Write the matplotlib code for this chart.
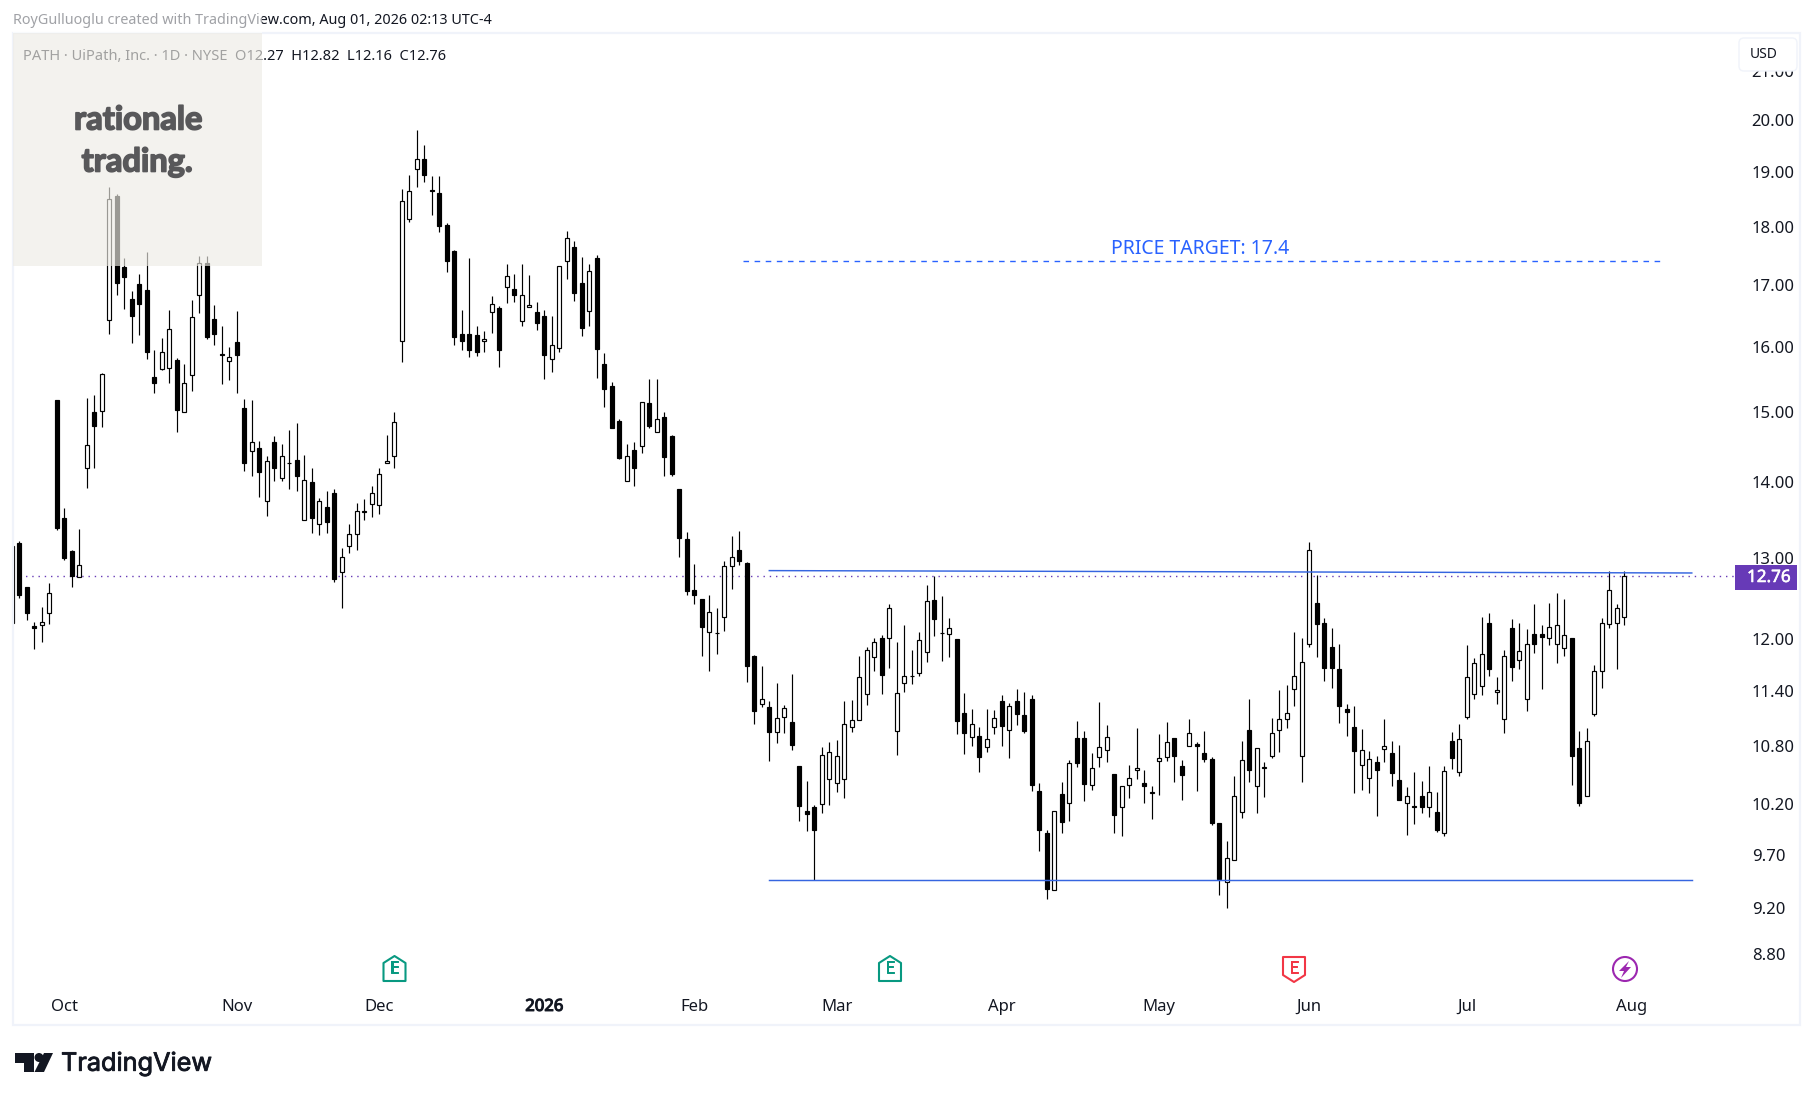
import numpy as np
import matplotlib
matplotlib.use("Agg")
import matplotlib.pyplot as plt
import matplotlib.patheffects as pe
from matplotlib.patches import Circle, FancyBboxPatch, Polygon, Rectangle
from matplotlib.transforms import Affine2D

plt.rcParams['font.family'] = ['Noto Sans', 'DejaVu Sans']

highs = [
    13.20, 13.21, 12.63, 12.20, 12.38, 12.68, 15.18, 13.64, 13.09, 13.37,
    15.21, 15.26, 15.59, 18.72, 18.60, 17.46, 16.90, 17.19, 17.56, 15.95,
    16.14, 16.58, 15.82, 15.72, 16.75, 17.50, 17.50, 16.66, 16.32, 15.99,
    16.57, 15.19, 15.18, 14.58, 14.37, 14.65, 14.53, 14.74, 14.84, 14.38,
    14.19, 13.78, 13.88, 13.91, 13.12, 13.43, 13.71, 13.77, 13.94, 14.20,
    14.67, 15.00, 18.68, 18.95, 19.81, 19.52, 18.92, 18.92, 18.07, 17.60,
    16.59, 17.45, 16.33, 16.24, 16.82, 16.65, 17.35, 17.18, 17.36, 17.16,
    16.72, 16.58, 16.48, 17.32, 17.93, 17.75, 17.48, 17.36, 17.51, 15.90,
    15.45, 14.90, 14.54, 14.56, 15.15, 15.50, 15.50, 15.00, 14.66, 13.90,
    13.33, 12.92, 12.47, 12.53, 12.36, 12.95, 13.27, 13.34, 12.94, 11.81,
    11.68, 11.28, 11.48, 11.24, 11.59, 10.58, 10.43, 10.18, 10.78, 10.84,
    10.86, 11.28, 11.29, 11.79, 11.90, 12.00, 12.04, 12.41, 11.96, 12.16,
    11.87, 12.08, 12.65, 12.76, 12.51, 12.25, 11.99, 11.37, 11.19, 11.00,
    11.19, 11.18, 11.35, 11.26, 11.42, 11.38, 11.35, 10.41, 9.94, 10.12,
    10.42, 10.65, 11.06, 10.95, 10.72, 11.27, 11.02, 10.50, 10.38, 10.59,
    10.99, 10.54, 10.38, 10.92, 11.05, 10.88, 10.65, 11.09, 10.84, 10.96,
    10.68, 10.01, 9.83, 10.48, 10.85, 11.30, 10.77, 10.62, 11.10, 11.41,
    11.46, 12.08, 12.01, 13.20, 12.77, 12.24, 12.13, 11.93, 11.25, 11.23,
    10.98, 10.74, 10.69, 11.08, 10.85, 10.80, 10.37, 10.52, 10.43, 10.58,
    10.32, 10.58, 10.94, 11.03, 11.92, 11.77, 12.26, 12.31, 11.55, 11.86,
    12.23, 12.18, 12.11, 12.41, 12.16, 12.43, 12.55, 12.47, 12.01, 10.95,
    10.99, 11.69, 12.24, 12.83, 12.42, 12.82,
]
lows = [
    12.10, 12.49, 12.22, 11.88, 11.96, 12.17, 13.35, 12.97, 12.62, 12.75,
    13.92, 14.19, 14.78, 16.20, 16.84, 16.61, 16.05, 16.18, 15.80, 15.28,
    15.63, 15.43, 14.71, 15.00, 15.32, 16.54, 16.12, 16.02, 15.42, 15.48,
    15.28, 14.15, 14.08, 13.80, 13.54, 14.01, 14.01, 13.90, 13.88, 13.48,
    13.31, 13.29, 13.31, 12.69, 12.36, 13.05, 13.09, 13.48, 13.52, 13.56,
    14.27, 14.19, 15.75, 18.09, 18.73, 18.81, 18.22, 17.91, 17.22, 16.02,
    15.94, 15.84, 15.85, 15.91, 16.22, 15.68, 16.70, 16.72, 16.33, 16.63,
    16.26, 15.49, 15.61, 15.91, 17.10, 16.74, 16.17, 16.33, 15.51, 15.08,
    14.76, 14.32, 14.02, 13.95, 14.41, 14.76, 14.71, 14.09, 14.08, 13.00,
    12.53, 12.41, 11.80, 11.62, 11.82, 12.09, 12.60, 12.90, 11.50, 11.03,
    11.22, 10.64, 10.83, 10.93, 10.75, 10.03, 9.93, 9.46, 10.10, 10.18,
    10.32, 10.25, 10.94, 11.07, 11.24, 11.62, 11.36, 11.66, 10.70, 11.38,
    11.47, 11.57, 11.73, 12.03, 11.74, 11.78, 10.92, 10.71, 10.79, 10.52,
    10.73, 10.92, 10.79, 10.67, 11.02, 10.93, 10.33, 9.73, 9.28, 9.37,
    9.91, 10.03, 10.57, 10.22, 10.34, 10.57, 10.63, 9.91, 9.88, 10.25,
    10.45, 10.20, 10.04, 10.29, 10.64, 10.42, 10.23, 10.79, 10.33, 10.62,
    9.99, 9.32, 9.20, 9.65, 10.05, 10.42, 10.10, 10.27, 10.67, 10.73,
    10.99, 11.23, 10.42, 11.90, 11.78, 11.51, 11.43, 11.04, 10.90, 10.31,
    10.34, 10.31, 10.07, 10.62, 10.38, 10.23, 9.89, 10.00, 10.10, 10.06,
    9.92, 9.88, 10.55, 10.48, 11.08, 11.30, 11.35, 11.57, 11.25, 10.93,
    11.51, 11.65, 11.17, 11.83, 11.42, 11.92, 11.71, 11.79, 10.39, 10.17,
    10.28, 11.12, 11.43, 12.12, 11.65, 12.16,
]
opens = [
    12.18, 13.18, 12.62, 12.15, 12.16, 12.30, 15.18, 13.51, 13.08, 12.75,
    14.19, 15.00, 15.02, 16.42, 18.55, 17.31, 16.76, 17.02, 16.91, 15.52,
    15.65, 15.67, 15.79, 15.00, 15.56, 16.83, 17.38, 16.44, 15.88, 15.78,
    16.07, 15.06, 14.43, 14.48, 13.74, 14.56, 14.06, 14.27, 14.31, 13.49,
    14.00, 13.43, 13.66, 13.85, 12.81, 13.15, 13.30, 13.59, 13.70, 13.68,
    14.27, 14.36, 16.09, 18.14, 19.05, 19.24, 18.66, 18.62, 18.03, 17.58,
    16.20, 16.20, 16.18, 16.09, 16.56, 16.62, 16.97, 16.93, 16.41, 16.63,
    16.55, 16.49, 15.81, 15.98, 17.41, 17.64, 17.04, 16.57, 17.46, 15.72,
    15.39, 14.87, 14.02, 14.45, 14.50, 15.14, 14.71, 14.93, 14.65, 13.90,
    13.24, 12.59, 12.47, 12.08, 12.07, 12.26, 12.89, 13.09, 12.93, 11.80,
    11.25, 11.22, 10.94, 11.11, 11.05, 10.58, 10.12, 10.16, 10.19, 10.45,
    10.41, 10.45, 11.00, 11.07, 11.36, 11.78, 12.01, 12.00, 10.95, 11.49,
    11.57, 11.60, 11.84, 12.46, 12.07, 12.05, 11.99, 11.15, 10.89, 10.90,
    10.78, 11.00, 11.28, 10.97, 11.28, 11.13, 11.31, 10.33, 9.91, 9.37,
    10.30, 10.20, 10.88, 10.88, 10.39, 10.68, 10.75, 10.50, 10.16, 10.39,
    10.54, 10.41, 10.31, 10.64, 10.68, 10.88, 10.58, 10.79, 10.82, 10.72,
    10.66, 10.01, 9.44, 9.65, 10.11, 10.97, 10.38, 10.56, 10.69, 10.97,
    11.09, 11.42, 10.69, 11.94, 12.43, 12.18, 11.90, 11.64, 11.20, 11.00,
    10.59, 10.46, 10.62, 10.76, 10.72, 10.44, 10.20, 10.17, 10.28, 10.16,
    10.11, 9.91, 10.85, 10.52, 11.11, 11.36, 11.45, 12.18, 11.38, 11.08,
    12.12, 11.75, 11.31, 12.05, 12.05, 12.00, 11.93, 11.89, 12.01, 10.77,
    10.28, 11.14, 11.62, 12.17, 12.19, 12.26,
]
closes = [
    13.14, 12.52, 12.31, 12.13, 12.20, 12.55, 13.38, 12.99, 12.76, 12.90,
    14.52, 14.80, 15.57, 18.50, 17.03, 17.13, 16.48, 16.68, 15.92, 15.44,
    15.92, 16.28, 15.03, 15.44, 16.47, 17.37, 16.15, 16.20, 15.86, 15.84,
    15.86, 14.27, 14.56, 14.14, 14.30, 14.20, 14.37, 14.26, 14.08, 14.03,
    13.51, 13.74, 13.46, 12.72, 13.00, 13.30, 13.60, 13.60, 13.85, 14.11,
    14.30, 14.85, 18.46, 18.64, 19.25, 18.95, 18.64, 18.01, 17.40, 16.15,
    16.08, 15.94, 15.92, 16.12, 16.68, 15.94, 17.15, 16.83, 16.83, 16.66,
    16.37, 15.86, 16.03, 17.32, 17.81, 16.86, 16.30, 17.24, 15.96, 15.35,
    14.77, 14.34, 14.37, 14.20, 15.15, 14.79, 14.90, 14.35, 14.11, 13.25,
    12.58, 12.53, 12.14, 12.32, 12.06, 12.89, 13.00, 12.95, 11.68, 11.17,
    11.31, 10.94, 11.10, 11.21, 10.80, 10.17, 10.09, 9.94, 10.70, 10.73,
    10.69, 11.03, 11.07, 11.55, 11.86, 11.96, 11.58, 12.37, 11.37, 11.57,
    11.57, 11.98, 12.45, 12.23, 12.06, 12.12, 11.06, 10.93, 11.03, 10.68,
    10.87, 11.10, 11.01, 11.23, 11.14, 10.95, 10.39, 9.94, 9.38, 10.12,
    10.02, 10.61, 10.61, 10.40, 10.56, 10.78, 10.89, 10.08, 10.38, 10.46,
    10.56, 10.38, 10.32, 10.67, 10.84, 10.69, 10.49, 10.93, 10.79, 10.66,
    10.01, 9.47, 9.67, 10.28, 10.65, 10.54, 10.77, 10.57, 10.93, 11.09,
    11.15, 11.57, 11.72, 13.09, 12.17, 11.66, 11.66, 11.23, 11.16, 10.74,
    10.75, 10.66, 10.54, 10.79, 10.51, 10.23, 10.28, 10.16, 10.16, 10.32,
    9.94, 10.53, 10.67, 10.87, 11.55, 11.71, 11.82, 11.65, 11.41, 11.79,
    11.67, 11.85, 11.93, 11.94, 12.02, 12.14, 12.16, 12.04, 10.69, 10.20,
    10.85, 11.62, 12.18, 12.59, 12.36, 12.76,
]

month_pos = [7, 30, 49, 71, 91, 110, 132, 153, 173, 194, 216]
month_labels = ['Oct', 'Nov', 'Dec', '2026', 'Feb', 'Mar', 'Apr', 'May', 'Jun', 'Jul', 'Aug']
price_ticks = [21, 20, 19, 18, 17, 16, 15, 14, 13, 12, 11.4, 10.8, 10.2, 9.7, 9.2, 8.8]
price_labels = ['%.2f' % p for p in price_ticks]

last_price = 12.76
target_price = 17.4
support_price = 9.46
resistance_prices = [12.83, 12.80]

BLUE = '#2962ff'
LINE_BLUE = '#3565e0'
PURPLE = '#673ab7'
INK = '#131722'
W, H = 1814, 1100
PANE = (13, 34, 1735, 985)    # left, top, right, bottom in pixels


def heavy(width, color):
    # the installed fonts have no black weight, so thicken with a stroke
    return [pe.withStroke(linewidth=width, foreground=color)]


def draw_candles(ax):
    x = np.arange(len(opens))
    o, h, l, c = map(np.array, (opens, highs, lows, closes))
    ax.vlines(x, l, h, color='black', lw=0.85, zorder=2)
    up = c >= o
    ax.bar(x[up], (c - o)[up], bottom=o[up], width=0.58, facecolor='white',
           edgecolor='black', lw=0.85, zorder=3)
    ax.bar(x[~up], (o - c)[~up], bottom=c[~up], width=0.58, facecolor='black',
           edgecolor='black', lw=0.85, zorder=3)


def draw_levels(ax):
    ax.plot([97.5, 220], [target_price, target_price], color=BLUE, lw=1,
            dashes=(4, 4), zorder=4)
    ax.text(158.5, 17.62, 'PRICE TARGET: 17.4', color=BLUE, fontsize=14,
            ha='center', va='center', zorder=5)
    ax.plot([101, 224], [support_price, support_price], color=LINE_BLUE, lw=1.05, zorder=4)
    ax.plot([101, 224], resistance_prices, color=LINE_BLUE, lw=1.05, zorder=4)
    ax.axhline(last_price, color=PURPLE, lw=1, dashes=(1, 3.5), zorder=1)


def earnings_icon(ov, cx, cy, color, up=True):
    if up:
        pts = [(cx - 11, cy - 6), (cx, cy - 13), (cx + 11, cy - 6), (cx + 11, cy + 12), (cx - 11, cy + 12)]
    else:
        pts = [(cx - 11, cy - 12), (cx + 11, cy - 12), (cx + 11, cy + 6), (cx, cy + 13), (cx - 11, cy + 6)]
    ov.add_patch(Polygon(pts, closed=True, fc='white', ec=color, lw=1.5, joinstyle='round'))
    ov.text(cx, cy, 'E', color=color, fontsize=12, ha='center', va='center',
            path_effects=heavy(0.7, color))


def draw_overlay(ov):
    # pane border
    ov.add_patch(Rectangle((13, 33), 1787, 992, fc='none', ec='#f0f3fa', lw=1.6))

    # top texts go under the logo box
    ov.text(13, 21, 'RoyGulluoglu created with TradingView.com, Aug 01, 2026 02:13 UTC-4',
            color=INK, fontsize=10.35, va='center', zorder=1)
    ov.text(23, 56, 'PATH · UiPath, Inc. · 1D · NYSE  O12.27  H12.82  L12.16  C12.76',
            color=INK, fontsize=10.55, va='center', zorder=1)

    ov.add_patch(Rectangle((13, 10), 249, 23, fc='white', alpha=0.6, ec='none', zorder=2))
    ov.add_patch(Rectangle((13, 33), 249, 233, fc='#eeece5', alpha=0.65, ec='none', zorder=2))
    ov.text(138, 120, 'rationale', color='#58585a', fontsize=23.5, fontweight='bold',
            family='Lato', ha='center', va='center', zorder=3,
            path_effects=heavy(1.2, '#58585a'))
    ov.text(137, 162, 'trading.', color='#58585a', fontsize=23.5, fontweight='bold',
            family='Lato', ha='center', va='center', zorder=3,
            path_effects=heavy(1.2, '#58585a'))

    # USD button
    ov.add_patch(FancyBboxPatch((1742, 41), 52, 27, boxstyle='round,pad=3,rounding_size=5',
                                fc='white', ec='#f0f3fa', lw=1))
    ov.text(1750, 55, 'USD', color=INK, fontsize=10, va='center')

    # last price tag
    ov.add_patch(Rectangle((1735, 565), 62, 25, fc=PURPLE, ec='none'))
    ov.text(1747, 578, '12.76', color='white', fontsize=12.3, va='center',
            path_effects=heavy(0.4, 'white'))

    earnings_icon(ov, 394.5, 969, '#089981')
    earnings_icon(ov, 890, 969, '#089981')
    earnings_icon(ov, 1294, 969, '#f23645', up=False)

    ov.add_patch(Circle((1625, 969), 12, fc='white', ec='#9c27b0', lw=1.5))
    ov.add_patch(Polygon([(1629, 961), (1619, 971), (1624, 971), (1621, 978),
                          (1631, 967), (1626, 967)], closed=True, fc='#9c27b0', ec='none'))

    # TradingView logo
    ov.add_patch(Polygon([(15, 1053), (34, 1053), (34, 1072), (24, 1072), (24, 1063), (15, 1063)],
                         closed=True, fc=INK, ec='none'))
    ov.add_patch(Circle((39, 1057.5), 4.5, fc=INK, ec='none'))
    ov.add_patch(Polygon([(44, 1053), (53, 1053), (44, 1072), (34.5, 1072)],
                         closed=True, fc=INK, ec='none'))
    ov.text(61, 1064, 'TradingView', color=INK, fontsize=18.2, family='Inter', va='center',
            path_effects=heavy(0.6, INK))


fig = plt.figure(figsize=(W / 100, H / 100), dpi=100, facecolor='white')

left, top, right, bottom = PANE
ax = fig.add_axes([left / W, 1 - bottom / H, (right - left) / W, (bottom - top) / H])
ax.set_yscale('log')
# 20.00 sits at y=120 px, 1015 px per unit of ln(price)
ax.set_ylim(20 * np.exp(-(bottom - 120) / 1015), 20 * np.exp((120 - top) / 1015))
ax.set_xlim((left - 11.8) / 7.5, (right - 11.8) / 7.5)
for s in ax.spines.values():
    s.set_visible(False)

draw_candles(ax)
draw_levels(ax)

ax.yaxis.tick_right()
ax.set_yticks(price_ticks, price_labels)
ax.minorticks_off()
ax.set_xticks(month_pos, month_labels)
ax.tick_params(axis='both', length=0, labelcolor=INK, labelsize=12)
ax.tick_params(axis='y', pad=12)
ax.tick_params(axis='x', pad=10)
for t in ax.get_yticklabels():
    t.set_va('center')
    t.set_transform(t.get_transform() + Affine2D().translate(0, -2.3))
ax.get_xticklabels()[3].set_path_effects(heavy(0.8, INK))

ov = fig.add_axes([0, 0, 1, 1], zorder=5)
ov.set_xlim(0, W)
ov.set_ylim(H, 0)
ov.axis('off')
draw_overlay(ov)

fig.savefig('out.png', dpi=100)
